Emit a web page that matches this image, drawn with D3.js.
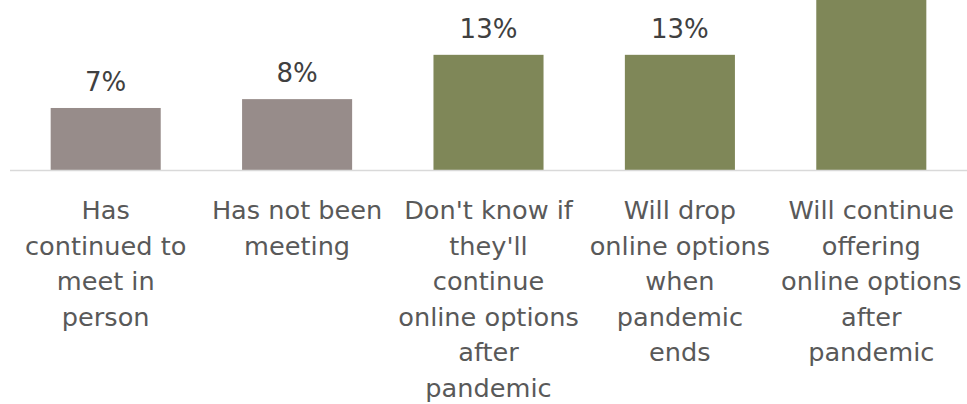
<!DOCTYPE html>
<html>
<head>
<meta charset="utf-8">
<script src="https://cdn.jsdelivr.net/npm/d3@7"></script>
<style>
  html, body { margin: 0; padding: 0; background: #fff; }
  svg { display: block; }
</style>
</head>
<body>
<svg id="chart" width="967" height="404"></svg>
<script>
// Share of congregations, by status of online services
const categories = [
    'Has continued to meet in person',
    'Has not been meeting',
    "Don't know if they'll continue online options after pandemic",
    'Will drop online options when pandemic ends',
    'Will continue offering online options after pandemic'
];
const labelLines = [
    ['Has', 'continued to', 'meet in', 'person'],
    ['Has not been', 'meeting'],
    ["Don't know if", "they'll", 'continue', 'online options', 'after', 'pandemic'],
    ['Will drop', 'online options', 'when', 'pandemic', 'ends'],
    ['Will continue', 'offering', 'online options', 'after', 'pandemic']
];
const values = [7, 8, 13, 13, 59];
const groups = ['other', 'other', 'online', 'online', 'online'];

(function() {
    'use strict';

    const width = 967;
    const baseY = 170;
    const pxPerPct = 8.86;

    const colors = { other: '#978c8a', online: '#7f8758' };
    const font = '"DejaVu Sans", sans-serif';

    const svg = d3.select('#chart');

    const x = d3.scaleBand()
        .domain(categories)
        .range([10, width])
        .paddingInner(0.425)
        .paddingOuter(0.2125);

    const y = d3.scaleLinear()
        .domain([0, 100])
        .range([baseY, baseY - 100 * pxPerPct]);

    // Bars
    svg.append('g')
        .selectAll('rect')
        .data(categories)
        .join('rect')
        .attr('x', d => x(d))
        .attr('width', x.bandwidth())
        .attr('y', (d, i) => y(values[i]))
        .attr('height', (d, i) => y(0) - y(values[i]))
        .attr('fill', (d, i) => colors[groups[i]]);

    // Value labels
    svg.append('g')
        .selectAll('text')
        .data(categories)
        .join('text')
        .attr('x', d => x(d) + x.bandwidth() / 2)
        .attr('y', (d, i) => y(values[i]) - 17)
        .attr('text-anchor', 'middle')
        .style('font-family', font)
        .style('font-size', '26px')
        .style('fill', '#404040')
        .text((d, i) => values[i] + '%');

    // Baseline
    svg.append('line')
        .attr('x1', 10)
        .attr('x2', width)
        .attr('y1', y(0) + 0.5)
        .attr('y2', y(0) + 0.5)
        .attr('stroke', '#d9d9d9')
        .attr('stroke-width', 1.5);

    // Category labels
    const lab = svg.append('g')
        .selectAll('text')
        .data(categories)
        .join('text')
        .attr('x', d => x(d) + x.bandwidth() / 2)
        .attr('y', 219)
        .attr('text-anchor', 'middle')
        .style('font-family', font)
        .style('font-size', '25.6px')
        .style('fill', '#595959');

    lab.selectAll('tspan')
        .data((d, i) => labelLines[i])
        .join('tspan')
        .attr('x', function() { return d3.select(this.parentNode).attr('x'); })
        .attr('dy', (d, i) => i === 0 ? 0 : 35.5)
        .text(d => d);
})();
</script>
</body>
</html>
